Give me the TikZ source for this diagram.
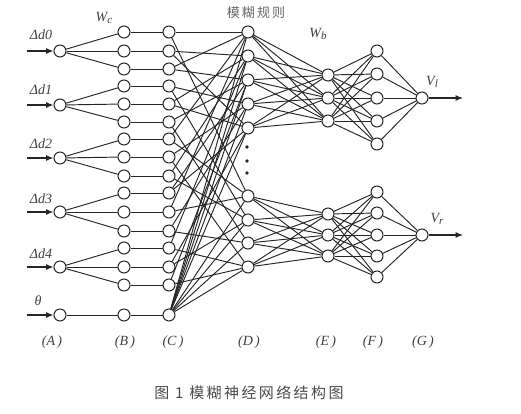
\documentclass[tikz,border=0pt]{standalone}
\usepackage{fontspec}
\setmainfont{Liberation Serif}
\newfontfamily\cjk{Noto Sans CJK SC}
\newfontfamily\cjkwide[LetterSpace=16]{Noto Sans CJK SC}
\usetikzlibrary{arrows.meta,backgrounds}
\begin{document}
\begin{tikzpicture}[x=1pt,y=-1pt,
  neuron/.style={circle,draw=black!85,fill=white,line width=1pt,minimum size=12pt,inner sep=0pt},
  link/.style={draw=black!85,line width=0.95pt},
  inarrow/.style={draw=black!85,line width=1.1pt,-{Latex[length=7.5pt,width=6pt]}},
  lbl/.style={font=\itshape\fontsize{14}{14}\selectfont,text=black!75,inner sep=0pt},
  cjklbl/.style={font=\cjkwide\fontsize{13}{13}\selectfont,text=black!60,inner sep=0pt},
  dotmark/.style={circle,fill=black!85,inner sep=0pt,minimum size=3.8pt}
]
\useasboundingbox (0,0) rectangle (521,413);

% layer A
\foreach \i/\y in {0/51,1/105,2/158,3/212,4/267,5/315}
  \node[neuron] (A\i) at (60,\y) {};
% layer B and C
\foreach \i/\y in {1/32,2/51,3/69,4/86,5/104,6/122,7/139,8/157,9/176,10/193,11/212,12/231,13/248,14/267,15/285,16/315}{
  \node[neuron] (B\i) at (124,\y) {};
  \node[neuron] (C\i) at (169,\y) {};
}
% layer D
\foreach \i/\y in {1/32,2/56,3/80,4/104,5/128,6/196,7/220,8/243,9/267}
  \node[neuron] (D\i) at (248,\y) {};
\node[dotmark] (dot1) at (247,147) {};
\node[dotmark] (dot2) at (247,161) {};
\node[dotmark] (dot3) at (247,173) {};
% layer E
\foreach \i/\y in {1/75,2/98,3/121,4/214,5/235,6/256}
  \node[neuron] (E\i) at (328,\y) {};
% layer F
\foreach \i/\y in {1/51,2/74,3/98,4/121,5/144,6/192,7/213,8/235,9/256,10/277}
  \node[neuron] (F\i) at (377,\y) {};
% layer G
\node[neuron] (G1) at (422,98) {};
\node[neuron] (G2) at (422,235) {};

% free ends
\foreach \i/\y in {0/51,1/105,2/158,3/212,4/267,5/315}
  \coordinate (S\i) at (27,\y);
\coordinate (O1) at (463,98);
\coordinate (O2) at (463,235);

\begin{scope}[on background layer]
  \foreach \i in {0,...,5} \draw[inarrow] (S\i) -- (A\i);
  \foreach \a/\b in {0/1,0/2,0/3,1/4,1/5,1/6,2/7,2/8,2/9,3/10,3/11,3/12,4/13,4/14,4/15,5/16}
    \draw[link] (A\a) -- (B\b);
  \foreach \i in {1,...,16} \draw[link] (B\i) -- (C\i);
  \foreach \c/\d in {1/1,1/6,2/2,2/5,3/3,3/1,4/4,4/7,5/5,5/2,6/3,6/8,7/1,7/6,8/4,8/9,9/2,9/7,10/5,10/3,
                     11/6,11/1,12/8,12/4,13/9,13/2,14/7,14/5,15/9,15/3}
    \draw[link] (C\c) -- (D\d);
  \foreach \d in {1,...,9} \draw[link] (C16) -- (D\d);
  \foreach \d in {1,...,5} \foreach \e in {1,2,3} \draw[link] (D\d) -- (E\e);
  \foreach \d in {6,...,9} \foreach \e in {4,5,6} \draw[link] (D\d) -- (E\e);
  \foreach \e in {1,2,3} \foreach \f in {1,...,5} \draw[link] (E\e) -- (F\f);
  \foreach \e in {4,5,6} \foreach \f in {6,...,10} \draw[link] (E\e) -- (F\f);
  \foreach \f in {1,...,5} \draw[link] (F\f) -- (G1);
  \foreach \f in {6,...,10} \draw[link] (F\f) -- (G2);
  \draw[inarrow] (G1) -- (O1);
  \draw[inarrow] (G2) -- (O2);
\end{scope}

% labels
\node[lbl] (l0) at (41,35) {Δd0};
\node[lbl] (l1) at (41,90) {Δd1};
\node[lbl] (l2) at (41,144) {Δd2};
\node[lbl] (l3) at (41,199) {Δd3};
\node[lbl] (l4) at (41,254) {Δd4};
\node[lbl] (l5) at (38,301) {θ};
\node[lbl] (wc) at (104,18) {W\raisebox{-0.35ex}{\fontsize{11}{11}\selectfont c}};
\node[lbl] (wb) at (318,34) {W\raisebox{-0.35ex}{\fontsize{11}{11}\selectfont b}};
\node[cjklbl] (rule) at (256,13) {模糊规则};
\node[lbl] (vl) at (432,82) {V\raisebox{-0.35ex}{\fontsize{11}{11}\selectfont l}};
\node[lbl] (vr) at (437,219) {V\raisebox{-0.35ex}{\fontsize{11}{11}\selectfont r}};
\foreach \t/\x in {A/52,B/125,C/173,D/249,E/326,F/373,G/423}
  \node[lbl] (cap\t) at (\x,342) {(\t\,)};
\node[font=\cjkwide\fontsize{15}{15}\selectfont,text=black!70,inner sep=0pt] (caption) at (249,393) {图 1 模糊神经网络结构图};
\end{tikzpicture}
\end{document}
